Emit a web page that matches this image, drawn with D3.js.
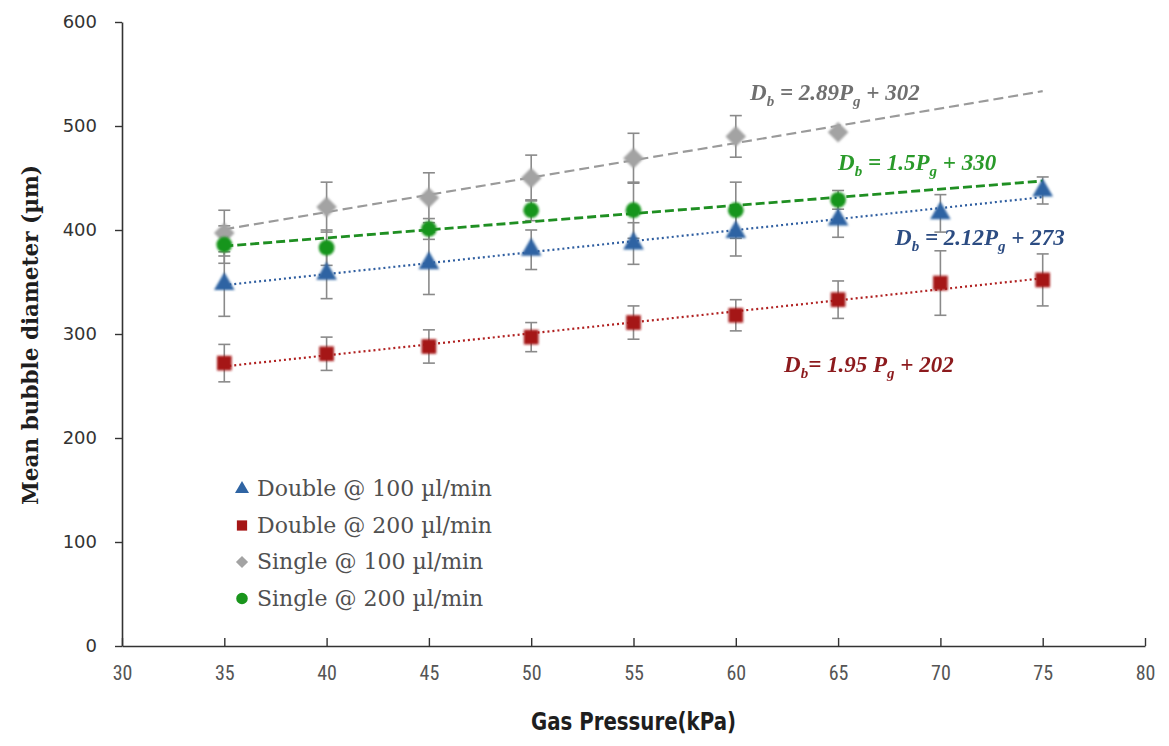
<!DOCTYPE html>
<html>
<head>
<meta charset="utf-8">
<script src="https://cdn.jsdelivr.net/npm/d3@7"></script>
<style>
  body { margin: 0; background: #fff; }
  svg { display: block; }
</style>
</head>
<body>
<svg id="chart" width="1169" height="746"></svg>
<script>
// pressures tested (kPa)
const pressure = [35, 40, 45, 50, 55, 60, 65, 70, 75];
const pressureSingle = [35, 40, 45, 50, 55, 60, 65];

// mean bubble diameter (um) and error bar half-widths
const double100 = [348, 358, 368, 381, 387, 398, 410, 416, 438];
const double100Err = [31, 24, 30, 19, 20, 23, 17, 18, 13];
const double200 = [272, 281, 288, 297, 311, 318, 333, 349, 352];
const double200Err = [18, 16, 16, 14, 16, 15, 18, 31, 25];
const single100 = [397, 422, 431, 450, 469, 490, 494];
const single100Err = [22, 24, 24, 22, 24, 20, 0];
const single200 = [386, 383, 401, 419, 419, 419, 429];
const single200Err = [18, 17, 10, 10, 27, 27, 9];

// trend lines are drawn over this pressure span
const fitRange = [35, 75];

const xTicks = [30, 35, 40, 45, 50, 55, 60, 65, 70, 75, 80];
const yTicks = [0, 100, 200, 300, 400, 500, 600];

const legendLabels = ["Double @ 100 \u00b5l/min", "Double @ 200 \u00b5l/min",
                      "Single @ 100 \u00b5l/min", "Single @ 200 \u00b5l/min"];

// equation labels: [main, sub, main, sub, main]
const eqDouble100 = ["D", "b", " = 2.12P", "g", " + 273"];
const eqDouble200 = ["D", "b", "= 1.95 P", "g", " + 202"];
const eqSingle100 = ["D", "b", " = 2.89P", "g", " + 302"];
const eqSingle200 = ["D", "b", " = 1.5P", "g", " + 330"];

const svg = d3.select("#chart");
const margin = {top: 22, right: 24, bottom: 100, left: 122};
const W = 1169, H = 746;

const x = d3.scaleLinear().domain([30, 80]).range([margin.left, W - margin.right]);
const y = d3.scaleLinear().domain([0, 600]).range([H - margin.bottom, margin.top]);

// soft edge on the markers
const defs = svg.append("defs");
defs.append("filter").attr("id", "soft")
  .attr("x", "-50%").attr("y", "-50%").attr("width", "200%").attr("height", "200%")
  .append("feGaussianBlur").attr("stdDeviation", 0.8);

// axes
const xAxis = svg.append("g")
  .attr("transform", "translate(0," + y(0) + ")")
  .call(d3.axisBottom(x).tickValues(xTicks).tickSizeInner(-8).tickSizeOuter(0).tickPadding(20));
const yAxis = svg.append("g")
  .attr("transform", "translate(" + x(30) + ",0)")
  .call(d3.axisLeft(y).tickValues(yTicks).tickSizeInner(7).tickSizeOuter(0).tickPadding(18));

[xAxis, yAxis].forEach(g => {
  g.select(".domain").attr("stroke", "#333").attr("stroke-width", 1.6);
  g.selectAll(".tick line").attr("stroke", "#333").attr("stroke-width", 1.4);
});
xAxis.selectAll("text")
  .attr("fill", "#555")
  .style("font-family", "'Liberation Sans Narrow', 'Roboto Condensed', 'DejaVu Sans Condensed', sans-serif")
  .style("font-size", "20px");
yAxis.selectAll("text")
  .attr("fill", "#333")
  .style("font-family", "'DejaVu Sans', sans-serif")
  .style("font-size", "18px");

// axis titles
svg.append("text")
  .attr("x", x(55)).attr("y", 730)
  .attr("text-anchor", "middle")
  .attr("textLength", 205).attr("lengthAdjust", "spacingAndGlyphs")
  .style("font-family", "'Liberation Sans Narrow', 'DejaVu Sans Condensed', sans-serif")
  .style("font-weight", "bold").style("font-size", "24px").attr("fill", "#1e1e1e")
  .text("Gas Pressure(kPa)");

svg.append("text")
  .attr("transform", "translate(38," + 335 + ") rotate(-90)")
  .attr("text-anchor", "middle")
  .attr("textLength", 340).attr("lengthAdjust", "spacingAndGlyphs")
  .style("font-family", "'DejaVu Serif', serif")
  .style("font-weight", "bold").style("font-size", "22px").attr("fill", "#1e1e1e")
  .text("Mean bubble diameter (\u00b5m)");

// least squares trend of a series
function trend(xs, ys) {
  const mx = d3.mean(xs), my = d3.mean(ys);
  const sxy = d3.sum(xs, (v, i) => (v - mx) * (ys[i] - my));
  const sxx = d3.sum(xs, v => (v - mx) * (v - mx));
  const slope = sxy / sxx;
  return fitRange.map(p => [p, my + slope * (p - mx)]);
}

const series = [
  {xs: pressure, ys: double100, err: double100Err, color: "#2f64a3", lineColor: "#2f5ea0",
   dash: "2,3", width: 2.2, shape: d3.symbolTriangle, size: 185},
  {xs: pressure, ys: double200, err: double200Err, color: "#a51616", lineColor: "#b02020",
   dash: "2,3", width: 2.2, shape: d3.symbolSquare, size: 215},
  {xs: pressureSingle, ys: single100, err: single100Err, color: "#a3a3a3", lineColor: "#9a9a9a",
   dash: "10,5", width: 2.2, shape: d3.symbolDiamond2, size: 270},
  {xs: pressureSingle, ys: single200, err: single200Err, color: "#19951c", lineColor: "#1f8f22",
   dash: "9,4", width: 2.8, shape: d3.symbolCircle, size: 195}
];

const line = d3.line().x(d => x(d[0])).y(d => y(d[1]));

// error bars
series.forEach(s => {
  const g = svg.append("g").attr("stroke", "#8a8a8a").attr("stroke-width", 1.6);
  s.ys.forEach((v, i) => {
    const e = s.err[i];
    if (!e) return;
    const cx = x(s.xs[i]);
    g.append("line").attr("x1", cx).attr("x2", cx).attr("y1", y(v - e)).attr("y2", y(v + e));
    [v - e, v + e].forEach(t => {
      g.append("line").attr("x1", cx - 6).attr("x2", cx + 6).attr("y1", y(t)).attr("y2", y(t));
    });
  });
});

// trend lines
series.forEach(s => {
  svg.append("path")
    .attr("d", line(trend(s.xs, s.ys)))
    .attr("fill", "none")
    .attr("stroke", s.lineColor)
    .attr("stroke-width", s.width)
    .attr("stroke-dasharray", s.dash);
});

// markers
series.forEach(s => {
  svg.append("g").attr("filter", "url(#soft)")
    .selectAll("path").data(s.ys).enter().append("path")
    .attr("transform", (d, i) => "translate(" + x(s.xs[i]) + "," + y(d) + ")")
    .attr("d", d3.symbol().type(s.shape).size(s.size))
    .attr("fill", s.color);
});

// equation labels
function equation(parts, px, py, color) {
  const t = svg.append("text")
    .attr("x", px).attr("y", py)
    .attr("fill", color)
    .style("font-family", "'Liberation Serif', serif")
    .style("font-weight", "bold").style("font-style", "italic")
    .style("font-size", "23px");
  parts.forEach((p, i) => {
    const sub = i % 2 === 1;
    t.append("tspan")
      .attr("dy", sub ? 6 : (i > 0 ? -6 : 0))
      .style("font-size", sub ? "15px" : "23px")
      .text(p);
  });
}
equation(eqSingle100, 750, 100, "#6f6f6f");
equation(eqSingle200, 838, 170, "#2a9a2a");
equation(eqDouble100, 895, 245, "#2c4c82");
equation(eqDouble200, 784, 372, "#8c1a1d");

// legend
const legend = svg.append("g");
const legendShapes = [d3.symbolTriangle, d3.symbolSquare, d3.symbolDiamond2, d3.symbolCircle];
const legendColors = ["#2f64a3", "#a51616", "#a3a3a3", "#19951c"];
const legendSizes = [85, 105, 95, 105];
legendLabels.forEach((lab, i) => {
  const ly = 489 + i * 36.5;
  legend.append("path")
    .attr("transform", "translate(242," + ly + ")")
    .attr("d", d3.symbol().type(legendShapes[i]).size(legendSizes[i]))
    .attr("fill", legendColors[i]);
  legend.append("text")
    .attr("x", 257).attr("y", ly + 7)
    .attr("fill", "#505050")
    .style("font-family", "'DejaVu Serif', serif")
    .style("font-size", "22px")
    .text(lab);
});
</script>
</body>
</html>
